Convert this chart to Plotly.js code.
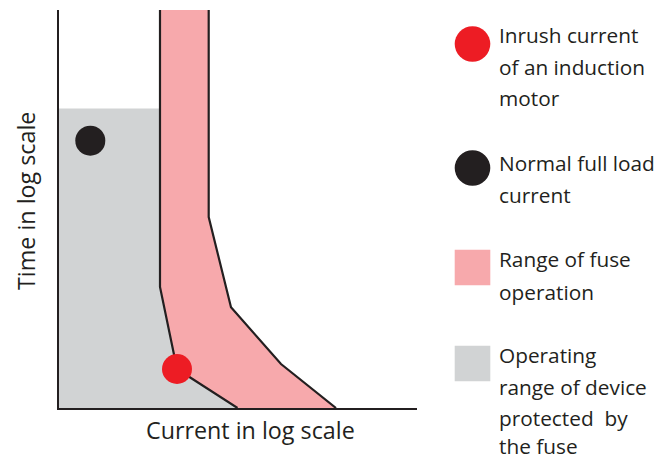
<!DOCTYPE html>
<html>
<head>
<meta charset="utf-8">
<script src="https://cdn.plot.ly/plotly-3.0.1.min.js"></script>
<style>html,body{margin:0;padding:0;background:#fff}#chart{width:671px;height:460px}</style>
</head>
<body>
<div id="chart"></div>
<script>
// Values (arbitrary units on the log-log frame)
var deviceRangeX = [0, 101.5, 101.5, 118.5, 179, 0];
var deviceRangeY = [299.5, 299.5, 121, 39, 0, 0];

var fuseLeftX = [101.5, 101.5, 118.5, 179];
var fuseLeftY = [399, 121, 39, 0];
var fuseRightX = [277.5, 222.5, 172.5, 150.2, 150.2];
var fuseRightY = [0, 44, 100.7, 191, 399];

var fullLoadX = [31.8];
var fullLoadY = [267.3];
var inrushX = [118.5];
var inrushY = [39];

var xTitle = "Current in log scale";
var yTitle = "Time in log scale";
var legendItems = [
  {kind: "circle", color: "#ed1c24", lines: ["Inrush current", "of an induction", "motor"], cy: 44, ty: [35, 66.5, 98]},
  {kind: "circle", color: "#231f20", lines: ["Normal full load", "current"], cy: 168, ty: [163, 195]},
  {kind: "square", color: "#f7a9ac", lines: ["Range of fuse", "operation"], cy: 267.5, ty: [259, 291.5]},
  {kind: "square", color: "#d1d3d4", lines: ["Operating", "range of device", "protected  by", "the fuse"], cy: 363.5, ty: [355, 387, 418, 446]}
];

var W = 671, H = 460;
var ink = "#231f20";
var font = "Open Sans, Noto Sans, sans-serif";
function px(x){return x / W;}
function py(y){return 1 - y / H;}

var fuseX = fuseLeftX.concat(fuseRightX);
var fuseY = fuseLeftY.concat(fuseRightY);

var traces = [
  {x: deviceRangeX, y: deviceRangeY, mode: "lines", fill: "toself", fillcolor: "#d1d3d4", line: {width: 0}, hoverinfo: "skip"},
  {x: fuseX, y: fuseY, mode: "lines", fill: "toself", fillcolor: "#f7a9ac", line: {width: 0}, hoverinfo: "skip"},
  {x: fuseLeftX, y: fuseLeftY, mode: "lines", line: {color: ink, width: 2.2}, hoverinfo: "skip"},
  {x: fuseRightX, y: fuseRightY, mode: "lines", line: {color: ink, width: 2.2}, hoverinfo: "skip"},
  {x: fullLoadX, y: fullLoadY, mode: "markers", marker: {size: 30, color: ink}, hoverinfo: "skip"},
  {x: inrushX, y: inrushY, mode: "markers", marker: {size: 30, color: "#ed1c24"}, hoverinfo: "skip"}
];

var shapes = [];
var annotations = [];
legendItems.forEach(function(it){
  var cx = 472.5, r = 17.8;
  shapes.push({
    type: it.kind === "circle" ? "circle" : "rect",
    xref: "paper", yref: "paper",
    x0: px(cx - r), x1: px(cx + r), y0: py(it.cy + r), y1: py(it.cy - r),
    fillcolor: it.color, line: {width: 0}
  });
  it.lines.forEach(function(t, i){
    annotations.push({
      text: t, xref: "paper", yref: "paper", x: px(497.5), y: py(it.ty[i]),
      xanchor: "left", yanchor: "middle", showarrow: false, borderpad: 0,
      font: {family: font, size: 20.8, color: ink}
    });
  });
});
annotations.push({
  text: xTitle, xref: "paper", yref: "paper", x: px(250), y: py(430),
  xanchor: "center", yanchor: "middle", showarrow: false,
  font: {family: font, size: 23.3, color: ink}
});
annotations.push({
  text: yTitle, xref: "paper", yref: "paper", x: px(26), y: py(201),
  xanchor: "center", yanchor: "middle", showarrow: false, textangle: -90,
  font: {family: font, size: 23.3, color: ink}
});

var layout = {
  width: W, height: H,
  margin: {l: 0, r: 0, t: 0, b: 0},
  paper_bgcolor: "#fff", plot_bgcolor: "rgba(0,0,0,0)",
  showlegend: false,
  xaxis: {domain: [px(58.5), px(417)], range: [0, 358.5], showgrid: false, zeroline: false,
          showticklabels: false, ticks: "", showline: true, linecolor: ink, linewidth: 2, fixedrange: true},
  yaxis: {domain: [py(408), py(10)], range: [0, 398], showgrid: false, zeroline: false,
          showticklabels: false, ticks: "", showline: true, linecolor: ink, linewidth: 2, fixedrange: true},
  shapes: shapes,
  annotations: annotations
};

Plotly.newPlot("chart", traces, layout, {displayModeBar: false, staticPlot: true});
</script>
</body>
</html>
